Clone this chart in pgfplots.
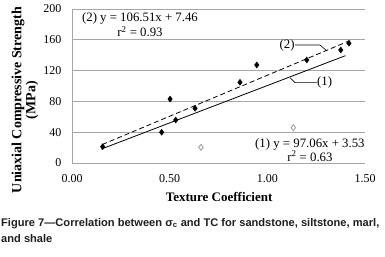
\documentclass[border=0pt]{standalone}
\usepackage{fontspec}
\setmainfont{Liberation Serif}
\newfontfamily\capfont{Liberation Sans}
\usepackage{pgfplots}
\pgfplotsset{compat=1.18}
\definecolor{gridgray}{HTML}{A6A6A6}
\definecolor{opengray}{HTML}{9A9A9A}
\definecolor{captext}{HTML}{1E1E1E}
\begin{document}
\begin{tikzpicture}
\useasboundingbox (0,0) rectangle (385bp,257bp);
\begin{axis}[
  at={(72bp,94bp)}, anchor=south west,
  scale only axis, width=293bp, height=154bp,
  xmin=0, xmax=1.5, ymin=0, ymax=200,
  xtick={0,0.5,1,1.5}, xticklabels={0.00,0.50,1.00,1.50},
  ytick={0,40,80,120,160,200}, yticklabels={0,40,80,120,160,200},
  ymajorgrids, grid style={gridgray, line width=0.8bp},
  axis lines*=left, axis line style={gridgray, line width=0.8bp, -},
  major tick length=0pt,
  tick label style={font=\fontsize{12bp}{13bp}\selectfont, text=black},
  xticklabel style={anchor=base, yshift=-20bp},
  yticklabel style={anchor=east, xshift=-7bp},
  clip=false,
  xlabel={Texture Coefficient},
  xlabel style={font=\bfseries\fontsize{13bp}{15bp}\selectfont, at={(axis description cs:0.502,-0.221)}, anchor=center},
  ylabel={Uniaxial Compressive Strength\\(MPa)},
  ylabel style={font=\bfseries\fontsize{14bp}{14bp}\selectfont, align=center, at={(axis description cs:-0.160,0.409)}, anchor=center},
]
\addplot[only marks, mark=diamond*, mark size=3bp, mark options={fill=black, draw=black}] coordinates {
(0.157,21.2) (0.459,39.9) (0.502,83.1) (0.531,55.8) (0.630,71.0)
(0.860,104.8) (0.946,127.3) (1.202,133.8) (1.376,146.8) (1.418,155.5)};
\addplot[only marks, mark=diamond*, mark size=3bp, mark options={fill=white, draw=opengray, line width=0.8bp}] coordinates {
(0.660,20.4) (1.133,45.8)};
\addplot[black, line width=0.8bp] coordinates {(0.15,18.09) (1.40,139.41)};
\addplot[black, line width=0.8bp, dash pattern=on 5bp off 3bp] coordinates {(0.155,23.97) (1.42,158.70)};
\draw[black, line width=0.6bp] (axis cs:1.142,153.2) -- (axis cs:1.270,153.2) -- (axis cs:1.304,145.8);
\draw[black, line width=0.6bp] (axis cs:1.253,104.3) -- (axis cs:1.142,104.3) -- (axis cs:1.116,110.8);
\node[font=\fontsize{12.8bp}{15bp}\selectfont, inner sep=0pt] at (axis cs:1.101,153.2) {(2)};
\node[font=\fontsize{12.8bp}{15bp}\selectfont, inner sep=0pt] at (axis cs:1.293,104.3) {(1)};
\node[align=center, font=\fontsize{12.8bp}{15bp}\selectfont, inner sep=0pt] at (axis description cs:0.232,0.899) {(2) y = 106.51x + 7.46\\r\textsuperscript{2} = 0.93};
\node[align=center, font=\fontsize{12.8bp}{13.5bp}\selectfont, inner sep=0pt] at (axis description cs:0.812,0.084) {(1) y = 97.06x + 3.53\\r\textsuperscript{2} = 0.63};
\end{axis}
\node[anchor=base west, align=left, inner sep=0pt, text=captext, font=\capfont\bfseries\fontsize{11.1bp}{16bp}\selectfont] at (1bp,15bp) {Figure 7—Correlation between σ\textsubscript{c} and TC for sandstone, siltstone, marl,\\and shale};
\end{tikzpicture}
\end{document}
